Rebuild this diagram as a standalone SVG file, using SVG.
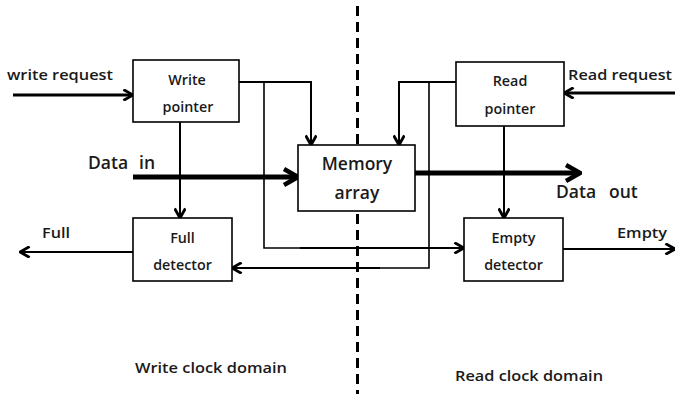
<svg xmlns="http://www.w3.org/2000/svg" width="675" height="396" viewBox="0 0 675 396">
<style>
.box{fill:#fff;stroke:#000;stroke-width:1.6}
.t{font-family:"Open Sans","Liberation Sans",sans-serif;font-size:14.3px;font-weight:600;fill:#1a1a1a;text-anchor:middle}
.l{font-family:"Open Sans","Liberation Sans",sans-serif;font-size:14.5px;font-weight:600;fill:#1a1a1a}
.big{font-family:"Open Sans","Liberation Sans",sans-serif;font-size:17.5px;font-weight:600;fill:#1a1a1a}
.c{fill:none;stroke:#000;stroke-width:2}
.c1{fill:none;stroke:#000;stroke-width:1.6}
.c3{fill:none;stroke:#000;stroke-width:3}
.c5{fill:none;stroke:#000;stroke-width:5}
</style>
<defs>
<marker id="a2" viewBox="0 0 10 10" refX="9" refY="5" markerWidth="12" markerHeight="12" markerUnits="userSpaceOnUse" orient="auto">
<path d="M1,0.5 L9,5 L1,9.5" fill="none" stroke="#000" stroke-width="2.4"/>
</marker>
<marker id="a3" viewBox="0 0 10 10" refX="9" refY="5" markerWidth="20" markerHeight="20" markerUnits="userSpaceOnUse" orient="auto">
<path d="M2,1 L9,5 L2,9" fill="none" stroke="#000" stroke-width="2.2"/>
</marker>
</defs>
<line x1="357.5" y1="6" x2="357.5" y2="394" stroke="#000" stroke-width="3" stroke-dasharray="10,6"/>
<g id="connectors">
<path class="c3" d="M13,95 L133,95" marker-end="url(#a2)"/>
<path class="c" d="M239,82 L311,82 L311,145" marker-end="url(#a2)"/>
<path class="c1" d="M264,82 L264,248 L464,248" />
<path class="c" d="M300,248 L464,248" marker-end="url(#a2)"/>
<path class="c" d="M180,122 L180,218" marker-end="url(#a2)"/>
<path class="c5" d="M133,177 L298,177" marker-end="url(#a3)"/>
<path class="c" d="M456,82 L399,82 L399,145" marker-end="url(#a2)"/>
<path class="c1" d="M429,82 L429,268 L360,268"/>
<path class="c" d="M380,268 L232,268" marker-end="url(#a2)"/>
<path class="c3" d="M675,93 L564,93" marker-end="url(#a2)"/>
<path class="c" d="M504,126 L504,218" marker-end="url(#a2)"/>
<path class="c5" d="M415,173 L580,173" marker-end="url(#a3)"/>
<path class="c" d="M133,252 L20,252" marker-end="url(#a2)"/>
<path class="c" d="M563,249 L675,249" marker-end="url(#a2)"/>
</g>
<g id="write-pointer"><rect class="box" x="133" y="60" width="106" height="62"/><text class="t" x="187" y="85">Write</text><text class="t" x="188" y="112">pointer</text></g>
<g id="read-pointer"><rect class="box" x="456" y="62" width="108" height="64"/><text class="t" x="510" y="86">Read</text><text class="t" x="510" y="114">pointer</text></g>
<g id="memory-array"><rect class="box" x="298" y="145" width="117" height="66"/><text class="big" x="357" y="170" text-anchor="middle">Memory</text><text class="big" x="357" y="199" text-anchor="middle">array</text></g>
<g id="full-detector"><rect class="box" x="133" y="218" width="99" height="63"/><text class="t" x="182.5" y="243">Full</text><text class="t" x="182.5" y="270">detector</text></g>
<g id="empty-detector"><rect class="box" x="464" y="218" width="99" height="63"/><text class="t" x="513.5" y="243">Empty</text><text class="t" x="513.5" y="270">detector</text></g>
<text class="l" x="7" y="80" textLength="106" lengthAdjust="spacingAndGlyphs">write request</text>
<text class="l" x="568" y="80" textLength="104" lengthAdjust="spacingAndGlyphs">Read request</text>
<text class="big" x="88" y="169">Data<tspan x="139">in</tspan></text>
<text class="big" x="556" y="198">Data<tspan x="609">out</tspan></text>
<text class="l" x="42" y="238" textLength="28" lengthAdjust="spacingAndGlyphs">Full</text>
<text class="l" x="617" y="238" textLength="50" lengthAdjust="spacingAndGlyphs">Empty</text>
<text class="l" x="135" y="373" textLength="152" lengthAdjust="spacingAndGlyphs">Write clock domain</text>
<text class="l" x="455" y="381" textLength="148" lengthAdjust="spacingAndGlyphs">Read clock domain</text>
</svg>
